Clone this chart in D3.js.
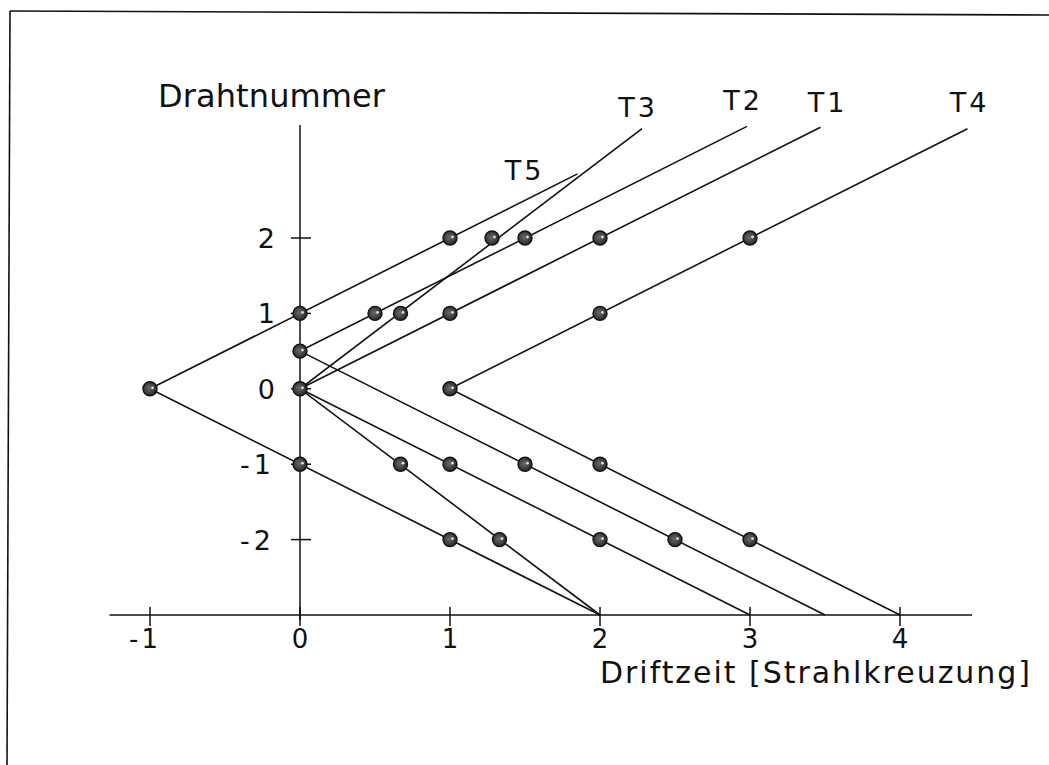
<!DOCTYPE html>
<html>
<head>
<meta charset="utf-8">
<script src="https://cdn.jsdelivr.net/npm/d3@7"></script>
<style>
  html, body { margin: 0; padding: 0; background: #fff; }
  svg text { font-family: "DejaVu Sans", sans-serif; fill: #111; }
</style>
</head>
<body>
<svg id="chart" width="1049" height="765"></svg>
<script>
// Tracks: each one is a V with a vertex, an upper arm and a lower arm.
const tracks    = ["T1", "T2", "T3", "T4", "T5"];
const vertexX   = [0, 0, 0, 1, -1];
const vertexY   = [0, 0.5, 0, 0, 0];
const upperEndX = [3.47, 2.98, 2.28, 4.45, 1.85];
const upperEndY = [3.47, 3.48, 3.45, 3.45, 2.85];
const lowerEndX = [3, 3.5, 2, 4, 2];
const lowerEndY = [-3, -3, -3, -3, -3];

// Wire hits (drift time, wire number)
const hitX = [-1, 0, 1, 0, 1,
              0, 0.5, 1.5, 1.5, 2.5,
              0, 1, 2, 1, 2,
              0.67, 1.28, 0.67, 1.33,
              1, 2, 3, 2, 3];
const hitY = [0, 1, 2, -1, -2,
              0.5, 1, 2, -1, -2,
              0, 1, 2, -1, -2,
              1, 2, -1, -2,
              0, 1, 2, -1, -2];

const xTicks = [-1, 0, 1, 2, 3, 4];
const yTicks = [-2, -1, 0, 1, 2];
const xTitle = "Driftzeit [Strahlkreuzung]";
const yTitle = "Drahtnummer";

const svg = d3.select("#chart");
const x = d3.scaleLinear().domain([-1, 4]).range([150, 900]);
const y = d3.scaleLinear().domain([-3, 2]).range([615, 238]);

const ink = "#111";

// page frame (top and left edges)
svg.append("line").attr("x1", 10).attr("y1", 11).attr("x2", 1049).attr("y2", 15)
  .attr("stroke", ink).attr("stroke-width", 1.6);
svg.append("line").attr("x1", 10).attr("y1", 11).attr("x2", 7).attr("y2", 765)
  .attr("stroke", ink).attr("stroke-width", 1.6);

// x axis
const xAxisY = y(-3);
svg.append("line").attr("x1", x(-1.27)).attr("x2", x(4.48))
  .attr("y1", xAxisY).attr("y2", xAxisY)
  .attr("stroke", ink).attr("stroke-width", 1.5);
svg.selectAll(".xtick").data(xTicks).enter().append("line")
  .attr("x1", d => x(d)).attr("x2", d => x(d))
  .attr("y1", xAxisY - 8).attr("y2", xAxisY + 11)
  .attr("stroke", ink).attr("stroke-width", 1.5);
svg.selectAll(".xlab").data(xTicks).enter().append("text")
  .attr("x", d => x(d) - (d < 0 ? 5 : 0)).attr("y", xAxisY + 33)
  .attr("text-anchor", "middle").attr("font-size", 26)
  .attr("letter-spacing", d => d < 0 ? 3 : 0)
  .text(d => d);

// y axis
const yAxisX = x(0);
svg.append("line").attr("x1", yAxisX).attr("x2", yAxisX)
  .attr("y1", 125).attr("y2", xAxisY + 5)
  .attr("stroke", ink).attr("stroke-width", 1.5);
svg.selectAll(".ytick").data(yTicks).enter().append("line")
  .attr("x1", yAxisX - 9).attr("x2", yAxisX + 11)
  .attr("y1", d => y(d)).attr("y2", d => y(d))
  .attr("stroke", ink).attr("stroke-width", 1.5);
svg.selectAll(".ylab").data(yTicks).enter().append("text")
  .attr("x", yAxisX - 25).attr("y", d => y(d) + 10)
  .attr("text-anchor", "end").attr("font-size", 27)
  .attr("letter-spacing", d => d < 0 ? 4 : 0)
  .text(d => d);

// axis titles
svg.append("text").attr("x", 158).attr("y", 107)
  .attr("font-size", 32).attr("textLength", 227).attr("lengthAdjust", "spacing")
  .text(yTitle);
svg.append("text").attr("x", 600).attr("y", 683)
  .attr("font-size", 30).attr("textLength", 430).attr("lengthAdjust", "spacing")
  .text(xTitle);

// track lines
const line = d3.line().x(d => x(d[0])).y(d => y(d[1]));
tracks.forEach((t, i) => {
  const pts = [[upperEndX[i], upperEndY[i]], [vertexX[i], vertexY[i]], [lowerEndX[i], lowerEndY[i]]];
  svg.append("path").attr("d", line(pts))
    .attr("fill", "none").attr("stroke", ink).attr("stroke-width", 1.6)
    .attr("stroke-linejoin", "miter");
});

// track labels, offset from the upper end of each track
const labelOffset = { T1: [7, -15], T2: [-4, -16], T3: [-4, -12], T4: [2, -17], T5: [-53, 6] };
tracks.forEach((t, i) => {
  const o = labelOffset[t];
  svg.append("text")
    .attr("x", x(upperEndX[i]) + o[0]).attr("y", y(upperEndY[i]) + o[1])
    .attr("text-anchor", "middle").attr("font-size", 27).attr("letter-spacing", 3)
    .text(t);
});

// hit markers
const defs = svg.append("defs");
const grad = defs.append("radialGradient").attr("id", "ball")
  .attr("cx", "45%").attr("cy", "45%").attr("r", "60%");
grad.append("stop").attr("offset", "0%").attr("stop-color", "#6a6a6a");
grad.append("stop").attr("offset", "70%").attr("stop-color", "#383838");
grad.append("stop").attr("offset", "100%").attr("stop-color", "#1e1e1e");

const hits = hitX.map((v, i) => [v, hitY[i]]);
svg.selectAll(".hit").data(hits).enter().append("circle")
  .attr("cx", d => x(d[0])).attr("cy", d => y(d[1])).attr("r", 7)
  .attr("fill", "url(#ball)").attr("stroke", ink).attr("stroke-width", 1.4);
svg.selectAll(".spec").data(hits).enter().append("circle")
  .attr("cx", d => x(d[0]) + 2.5).attr("cy", d => y(d[1]) - 1)
  .attr("r", 1.4).attr("fill", "#ddd");
</script>
</body>
</html>
